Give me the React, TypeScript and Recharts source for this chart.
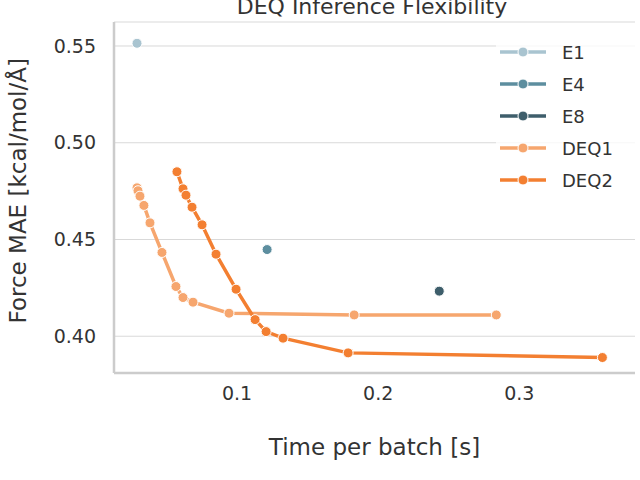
import React from "react";
import { LineChart, Line, XAxis, YAxis, CartesianGrid } from "recharts";

const e1X = [0.0291];
const e1Y = [0.5514];
const e4X = [0.1213];
const e4Y = [0.4448];
const e8X = [0.2433];
const e8Y = [0.4233];
const deq1X = [0.0291, 0.0298, 0.0312, 0.034, 0.0383, 0.0468, 0.0567, 0.0617, 0.0688, 0.0943, 0.183, 0.2837];
const deq1Y = [0.4767, 0.4752, 0.4724, 0.4676, 0.4586, 0.4433, 0.4257, 0.42, 0.4176, 0.4119, 0.411, 0.411];
const deq2X = [0.0574, 0.0617, 0.0638, 0.0681, 0.0752, 0.0851, 0.0993, 0.1128, 0.1206, 0.1326, 0.1787, 0.3589];
const deq2Y = [0.485, 0.4762, 0.4729, 0.4667, 0.4576, 0.4424, 0.4243, 0.4086, 0.4024, 0.399, 0.3914, 0.389];
const xTicks = [0.1, 0.2, 0.3];
const yTicks = [0.4, 0.45, 0.5, 0.55];

const zip = (xs: number[], ys: number[]) => xs.map((x, i) => ({ x, y: ys[i] }));

const series = [
  { name: "E1", color: "#a9c4d0", data: zip(e1X, e1Y) },
  { name: "E4", color: "#5d8e9f", data: zip(e4X, e4Y) },
  { name: "E8", color: "#3e5e6b", data: zip(e8X, e8Y) },
  { name: "DEQ1", color: "#f6a66e", data: zip(deq1X, deq1Y) },
  { name: "DEQ2", color: "#f37f31", data: zip(deq2X, deq2Y) },
];

const font = "DejaVu Sans";

export default function App() {
  return (
    <div style={{ position: "absolute", left: 0, top: 0, width: 640, height: 480, background: "#fff", overflow: "hidden" }}>
      <LineChart width={640} height={480} margin={{ top: 22, right: 5, left: 0, bottom: 77 }}>
        <CartesianGrid vertical={false} stroke="#d9d9d9" strokeWidth={1} />
        <XAxis type="number" dataKey="x" domain={[0.0128, 0.382]} ticks={xTicks} allowDuplicatedCategory={false}
          tickFormatter={(v: number) => v.toFixed(1)} tick={{ fontFamily: font, fontSize: 19, fill: "#333" }}
          stroke="#cccccc" strokeWidth={2.5} tickLine={false} tickMargin={8}
          label={{ value: "Time per batch [s]", position: "insideBottom", offset: -52, fontFamily: font, fontSize: 23, fill: "#333" }} />
        <YAxis type="number" dataKey="y" domain={[0.381, 0.5624]} ticks={yTicks} width={114}
          tickFormatter={(v: number) => v.toFixed(2)} tick={{ fontFamily: font, fontSize: 19, fill: "#333" }}
          stroke="#cccccc" strokeWidth={2.5} tickLine={false} tickMargin={12}
          label={{ value: "Force MAE [kcal/mol/Å]", angle: -90, position: "insideLeft", offset: 18, dy: 126, fontFamily: font, fontSize: 23, fill: "#333" }} />
        {series.map((s) => (
          <Line key={s.name} data={s.data} dataKey="y" name={s.name} stroke={s.color} strokeWidth={3.5}
            dot={{ r: 5, fill: s.color, stroke: "#fff", strokeWidth: 1 }} isAnimationActive={false} />
        ))}
      </LineChart>
      <div style={{ position: "absolute", top: -6, left: 212, width: 320, textAlign: "center", fontFamily: font, fontSize: 22, color: "#333" }}>
        DEQ Inference Flexibility
      </div>
      <div style={{ position: "absolute", top: 36, left: 496, width: 142, background: "rgba(255,255,255,0.8)", fontFamily: font, fontSize: 18, color: "#333" }}>
        {series.map((s) => (
          <div key={s.name} style={{ display: "flex", alignItems: "center", height: 32 }}>
            <svg width={50} height={14} style={{ marginLeft: 2, marginRight: 14 }}>
              <line x1={2} y1={7} x2={48} y2={7} stroke={s.color} strokeWidth={3.5} />
              <circle cx={25} cy={7} r={5} fill={s.color} stroke="#fff" strokeWidth={1} />
            </svg>
            {s.name}
          </div>
        ))}
      </div>
    </div>
  );
}
